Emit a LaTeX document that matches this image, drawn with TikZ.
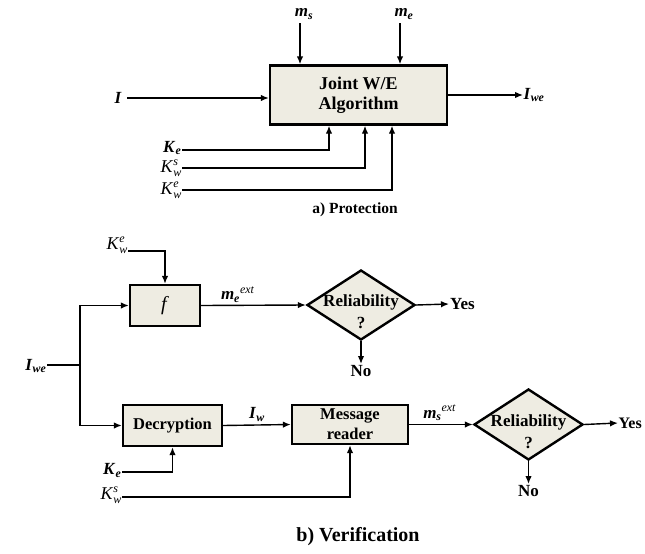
\documentclass[tikz,border=0pt]{standalone}
\usepackage{amsmath}
\usepackage{fontspec}
\setmainfont{Liberation Serif}
\usetikzlibrary{shapes.geometric,arrows.meta}
\definecolor{boxfill}{RGB}{238,236,226}
\newcommand\bi[1]{\textbf{\textit{#1}}}
\newcommand\bisub[2]{\bi{#1}\textsubscript{\bi{#2}}}
\newcommand\kws[1]{\textit{K}\rlap{\raisebox{0.4em}{\fontsize{12}{12}\selectfont\textit{#1}}}\raisebox{-0.2em}{\fontsize{12}{12}\selectfont\textit{w}}}
\begin{document}
\begin{tikzpicture}[x=1pt,y=-1pt,
  blk/.style={draw,line width=2.4pt,fill=boxfill,inner sep=0pt,align=center,font=\bfseries\fontsize{16.5}{20}\selectfont},
  dia/.style={diamond,draw,line width=2.4pt,fill=boxfill,inner sep=0pt,minimum width=108,minimum height=70},
  dtext/.style={yshift=-7pt,align=center,font=\bfseries\fontsize{17}{22}\selectfont},
  arr/.style={line width=1.4pt,-{Latex[length=8pt,width=6.5pt]}},
  ln/.style={line width=1.4pt},
  lbl/.style={inner sep=0.5pt,font=\fontsize{17}{18}\selectfont},
  klbl/.style={inner sep=0.5pt,font=\fontsize{18}{19}\selectfont},
  word/.style={inner sep=1pt,font=\bfseries\fontsize{17}{18}\selectfont},
  ]
\useasboundingbox (0,0) rectangle (645,554);

% ---------- a) Protection ----------
\node[blk, minimum width=177, minimum height=59, font=\bfseries\fontsize{18}{20}\selectfont] (alg) at (358.5,95) {Joint W/E\\Algorithm};
\node[lbl] (ms) at (304,14) {\bisub{m}{s}};
\node[lbl] (me) at (404,14) {\bisub{m}{e}};
\coordinate (msend) at (300,23);
\coordinate (meend) at (400,23);
\draw[arr] (msend) -- (msend |- alg.north);
\draw[arr] (meend) -- (meend |- alg.north);
\node[lbl,anchor=east,inner xsep=5pt] (I) at (127,98) {\bi{I}};
\draw[arr] (I.east) -- (I.east -| alg.west);
\node[lbl,anchor=west] (Iwe1) at (523,95) {\bisub{I}{we}};
\draw[arr] (alg.east) -- (Iwe1.west);
\node[lbl,anchor=east] (ke1) at (182,148) {\bisub{K}{e}};
\node[klbl,anchor=east] (kws1) at (182,168) {\kws{s}};
\node[klbl,anchor=east] (kwe1) at (182,190) {\kws{e}};
\draw[arr] ([yshift=-2pt]ke1.east) -| ([xshift=-29.5pt]alg.south);
\draw[arr] (kws1.east) -| ([xshift=6.5pt]alg.south);
\draw[arr] (kwe1.east) -| ([xshift=33.5pt]alg.south);
\node[inner sep=1pt,font=\bfseries\fontsize{15.5}{17}\selectfont] (capa) at (355,210) {a) Protection};

% ---------- b) Verification ----------
\node[blk, minimum width=70, minimum height=41] (f) at (165,305.5) {\fontsize{20}{20}\selectfont\mdseries\textit{f}};
\node[klbl,anchor=east] (kwe2) at (128,245) {\kws{e}};
\draw[arr] ([yshift=-6pt]kwe2.east) -| (f.north);
\node[dia] (d1) at (361,305) {};
\node[dtext] (d1t) at (d1.center) {Reliability\\?};
\draw[arr] (f.east) -- (d1.west) node[pos=0.35,above,lbl,inner sep=2pt] (mext) {\bisub{m}{e}\textsuperscript{\textit{ext}}};
\node[word,anchor=west] (yes1) at (449,304) {Yes};
\draw[arr] (d1.east) -- (yes1.west);
\node[word,anchor=north] (no1) at (361,364) {No};
\draw[arr] (d1.south) -- (no1.north);

\node[lbl,anchor=east] (iwe2) at (47,366) {\bisub{I}{we}};
\coordinate (j) at (80,365);
\draw[ln] (iwe2.east |- j) -- (j);
\draw[arr] (j) |- (f.west);
\node[blk, minimum width=99, minimum height=41] (dec) at (172.5,425.5) {Decryption};
\draw[arr] (j) |- (dec.west);
\node[blk, minimum width=116, minimum height=39] (mr) at (350,424.5) {Message\\reader};
\draw[arr] (dec.east) -- (mr.west) node[midway,above,lbl,inner sep=3pt] (iw) {\bisub{I}{w}};
\node[dia, minimum width=109, minimum height=71] (d2) at (528.5,424.5) {};
\node[dtext] (d2t) at (d2.center) {Reliability\\?};
\draw[arr] (mr.east) -- (d2.west) node[pos=0.48,above,lbl,inner sep=3pt] (msext) {\bisub{m}{s}\textsuperscript{\textit{ext}}};
\node[word,anchor=west,inner sep=0.5pt,font=\bfseries\fontsize{16}{18}\selectfont] (yes2) at (618,423) {Yes};
\draw[arr] (d2.east) -- (yes2.west);
\node[word,anchor=north] (no2) at (528.5,484) {No};
\draw[arr] (d2.south) -- (no2.north);

\node[lbl,anchor=east] (ke2) at (122,470.5) {\bisub{K}{e}};
\draw[arr] ([yshift=-1.5pt]ke2.east) -| (dec.south);
\node[klbl,anchor=east] (kws2) at (122,495) {\kws{s}};
\draw[arr] ([yshift=-2pt]kws2.east) -| (mr.south);
\node[inner sep=1pt,font=\bfseries\fontsize{20}{22}\selectfont] (capb) at (358,537) {b) Verification};
\end{tikzpicture}
\end{document}
